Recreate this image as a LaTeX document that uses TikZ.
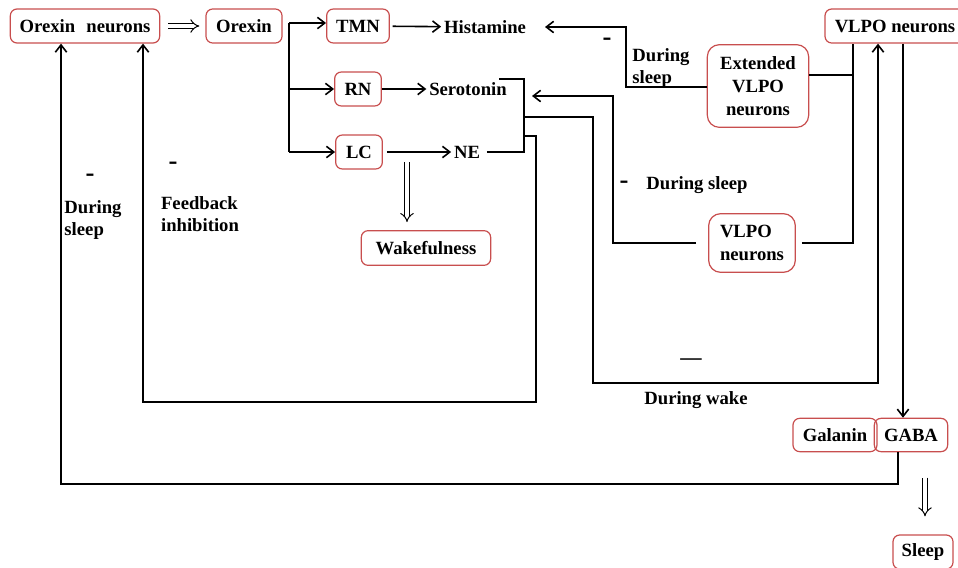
\documentclass[tikz,border=0pt]{standalone}
\usepackage{fontspec}
\setmainfont{Liberation Serif}
\usetikzlibrary{arrows.meta}
\definecolor{boxred}{RGB}{200,78,78}

\begin{document}
\begin{tikzpicture}[x=0.75pt, y=-0.75pt,
	font=\fontsize{14}{17}\selectfont\bfseries,
	box/.style={draw=boxred, line width=0.9pt, rounded corners=5pt, minimum height=25.5pt, inner sep=0pt, align=center},
	word/.style={inner sep=2pt, align=left},
	minus/.style={inner sep=0pt, font=\fontsize{20}{20}\selectfont\bfseries},
	wire/.style={line width=1.2pt},
	arr/.style={wire, -{Straight Barb[length=5.5pt,width=8.5pt]}},
	dbl/.style={double, double distance=2.8pt, line width=0.75pt, -{Implies}}]
	\useasboundingbox (0,0) rectangle (958,568);
	
	\node[box, minimum width=112pt] (orexinN) at (85,26) {Orexin\hspace{0.6em}neurons};
	\node[box, minimum width=57pt] (orexin) at (244,26) {Orexin};
	\node[box, minimum width=47pt] (tmn) at (358,26) {TMN};
	\node[box, minimum width=35pt] (rn) at (358,89) {RN};
	\node[box, minimum width=35pt] (lc) at (359,152) {LC};
	\node[box, minimum width=97pt, minimum height=26pt] (wake) at (426,248) {Wakefulness};
	\node[box, minimum width=76pt, minimum height=62pt, rounded corners=9pt] (extvlpo) at (758,86) {Extended\\VLPO\\neurons};
	\node[box, minimum width=65pt, minimum height=44pt, rounded corners=9pt, align=left] (vlpo) at (752,243) {VLPO\\neurons};
	\node[box, minimum width=105pt] (vlpotop) at (895,26) {VLPO neurons};
	\node[box, minimum width=63pt, minimum height=25pt] (galanin) at (835,435) {Galanin};
	\node[box, minimum width=55pt, minimum height=25pt] (gaba) at (911,435) {GABA};
	\node[box, minimum width=45pt] (sleep) at (923,552) {Sleep};
	
	\node[word] (hist) at (485,27) {Histamine};
	\node[word] (sero) at (468,89) {Serotonin};
	\node[word] (ne) at (467,152) {NE};
	
	\node[word] (dsleepL) at (93,220) {During\\sleep};
	\node[word] (fbinh) at (200,214) {Feedback\\inhibition};
	\node[word] (dsleepH) at (661,68) {During\\sleep};
	\node[word] (dsleepV) at (697,185) {During sleep};
	\node[word] (dwake) at (696,400) {During wake};
	\node[minus] (minusL) at (90,178) {-};
	\node[minus] (minusF) at (173,166) {-};
	\node[minus] (minusH) at (607,42) {-};
	\node[minus] (minusV) at (624,185) {-};
	\node[minus, font=\fontsize{16}{16}\selectfont\bfseries] (minusW) at (691,362) {---};
	
	% orexin branches
	\coordinate (fork) at (289,23);
	\draw[dbl, shorten <=6pt, shorten >=4.5pt] (orexinN) -- (orexin);
	\draw[wire] (fork) -- (fork |- lc);
	\draw[arr] (fork) -- (tmn.west |- fork);
	\draw[arr] (fork |- rn) -- (rn);
	\draw[arr] (fork |- lc) -- (lc);
	\draw[arr, shorten <=2pt] (tmn) -- (hist);
	\draw[arr] (rn) -- (sero);
	\draw[arr, shorten <=3pt] (lc) -- (ne);
	\coordinate (wkA) at (407,162);
	\draw[dbl] (wkA) -- ([yshift=6pt]wake.north -| wkA);
	
	% bracket from serotonin and NE
	\coordinate (brtop) at (499,79);
	\coordinate (brbot) at (524,152);
	\draw[wire, shorten <=3pt] (ne) -- (brbot) |- (brtop);
	\coordinate (wakeA) at (524,117);
	\coordinate (wakeB) at (593,383);
	\draw[arr] (wakeA) -| (wakeB) -| (vlpotop.south -| 878,0);
	\coordinate (fbA) at (524,136);
	\coordinate (fbB) at (536,402);
	\draw[arr] (fbA) -| (fbB) -| (orexinN.south -| 143,0);
	
	% VLPO inhibition
	\coordinate (vsA) at (613,96);
	\coordinate (vsTip) at (532,96);
	\draw[arr, shorten <=9pt] (vlpo.west) -| (vsA) -- (vsTip);
	\draw[wire, shorten <=4.5pt] (vlpo.east) -| (vlpotop.south -| 853,0);
	\coordinate (jn) at (853,75);
	\draw[wire] (extvlpo.east |- jn) -- (jn);
	\coordinate (hsA) at (626,87);
	\coordinate (hsTip) at (545,27);
	\draw[arr] (extvlpo.west |- hsA) -- (hsA) |- (hsTip);
	
	% GABA
	\draw[arr] (vlpotop.south -| 903,0) -- (gaba.north -| 903,0);
	\coordinate (gbA) at (61,484);
	\draw[arr] (gaba.south -| 898,0) |- (gbA) -- (orexinN.south -| gbA);
	\draw[dbl, shorten <=19pt, shorten >=13.5pt] (gaba.south -| 925,0) -- (sleep.north -| 925,0);
\end{tikzpicture}
\end{document}
